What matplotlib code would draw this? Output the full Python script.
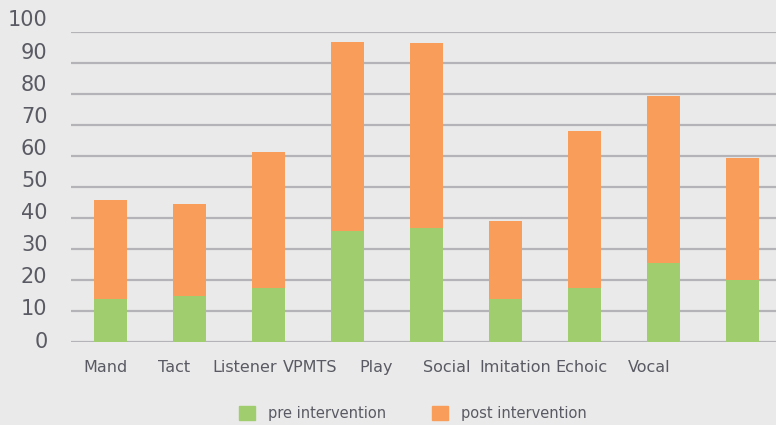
import matplotlib.pyplot as plt
import numpy as np
from matplotlib.patches import Patch

# bar values; post is the full bar height
pre = [14, 15, 17.5, 36, 37, 14, 17.5, 25.5, 20]
post = [46, 44.5, 61.5, 97, 96.5, 39, 68, 79.5, 59.5]

# category labels sit under the bars at their own (uneven) places
labels = ["Mand", "Tact", "Listener", "VPMTS", "Play", "Social", "Imitation", "Echoic", "Vocal"]
label_pos = [-0.06, 0.80, 1.70, 2.53, 3.36, 4.25, 5.12, 5.96, 6.82]

y_ticks = list(range(0, 101, 10))

BG = "#EAEAEA"
GREEN = "#A0CE6E"
ORANGE = "#F89E5A"
GRID = "#B4B4B8"
TEXT = "#595A63"

fig = plt.figure(figsize=(7.76, 4.25), dpi=100, facecolor=BG)
ax = fig.add_axes([71 / 776, 0.1946, 711 / 776, 0.7294])
ax.set_facecolor(BG)

x = np.arange(len(pre))
ax.bar(x, post, width=0.42, color=ORANGE, zorder=2)
ax.bar(x, pre, width=0.42, color=GREEN, zorder=3)

ax.set_xlim(-0.5, len(pre) - 0.5)
ax.set_ylim(0, 100)
ax.set_yticks(y_ticks)
ax.yaxis.grid(True, color=GRID, linewidth=1.6, zorder=0)
ax.set_axisbelow(True)
ax.tick_params(axis="y", length=0, labelleft=False)
ax.set_xticks(label_pos, labels)
ax.tick_params(axis="x", length=0, pad=13, labelsize=11.5, labelcolor=TEXT)
for s in ax.spines.values():
    s.set_visible(False)

# y labels in the reference are spaced slightly wider than the grid
lab = fig.add_axes([71 / 776, 1 - 339.5 / 425, 0.001, 321 / 425])
lab.set_ylim(0, 100)
lab.set_yticks(y_ticks)
lab.tick_params(axis="y", length=0, pad=17, labelsize=15, labelcolor=TEXT)
lab.set_xticks([])
lab.patch.set_alpha(0)
for s in lab.spines.values():
    s.set_visible(False)

handles = [Patch(color=GREEN, label="pre intervention"),
           Patch(color=ORANGE, label="post intervention")]
fig.legend(handles=handles, loc="center", bbox_to_anchor=(0.532, 0.026), ncol=2,
           frameon=False, fontsize=10.5, labelcolor=TEXT, handlelength=1.1,
           handleheight=1.1, handletextpad=0.9, columnspacing=3.1)

fig.savefig("out.png", dpi=100, facecolor=BG)
